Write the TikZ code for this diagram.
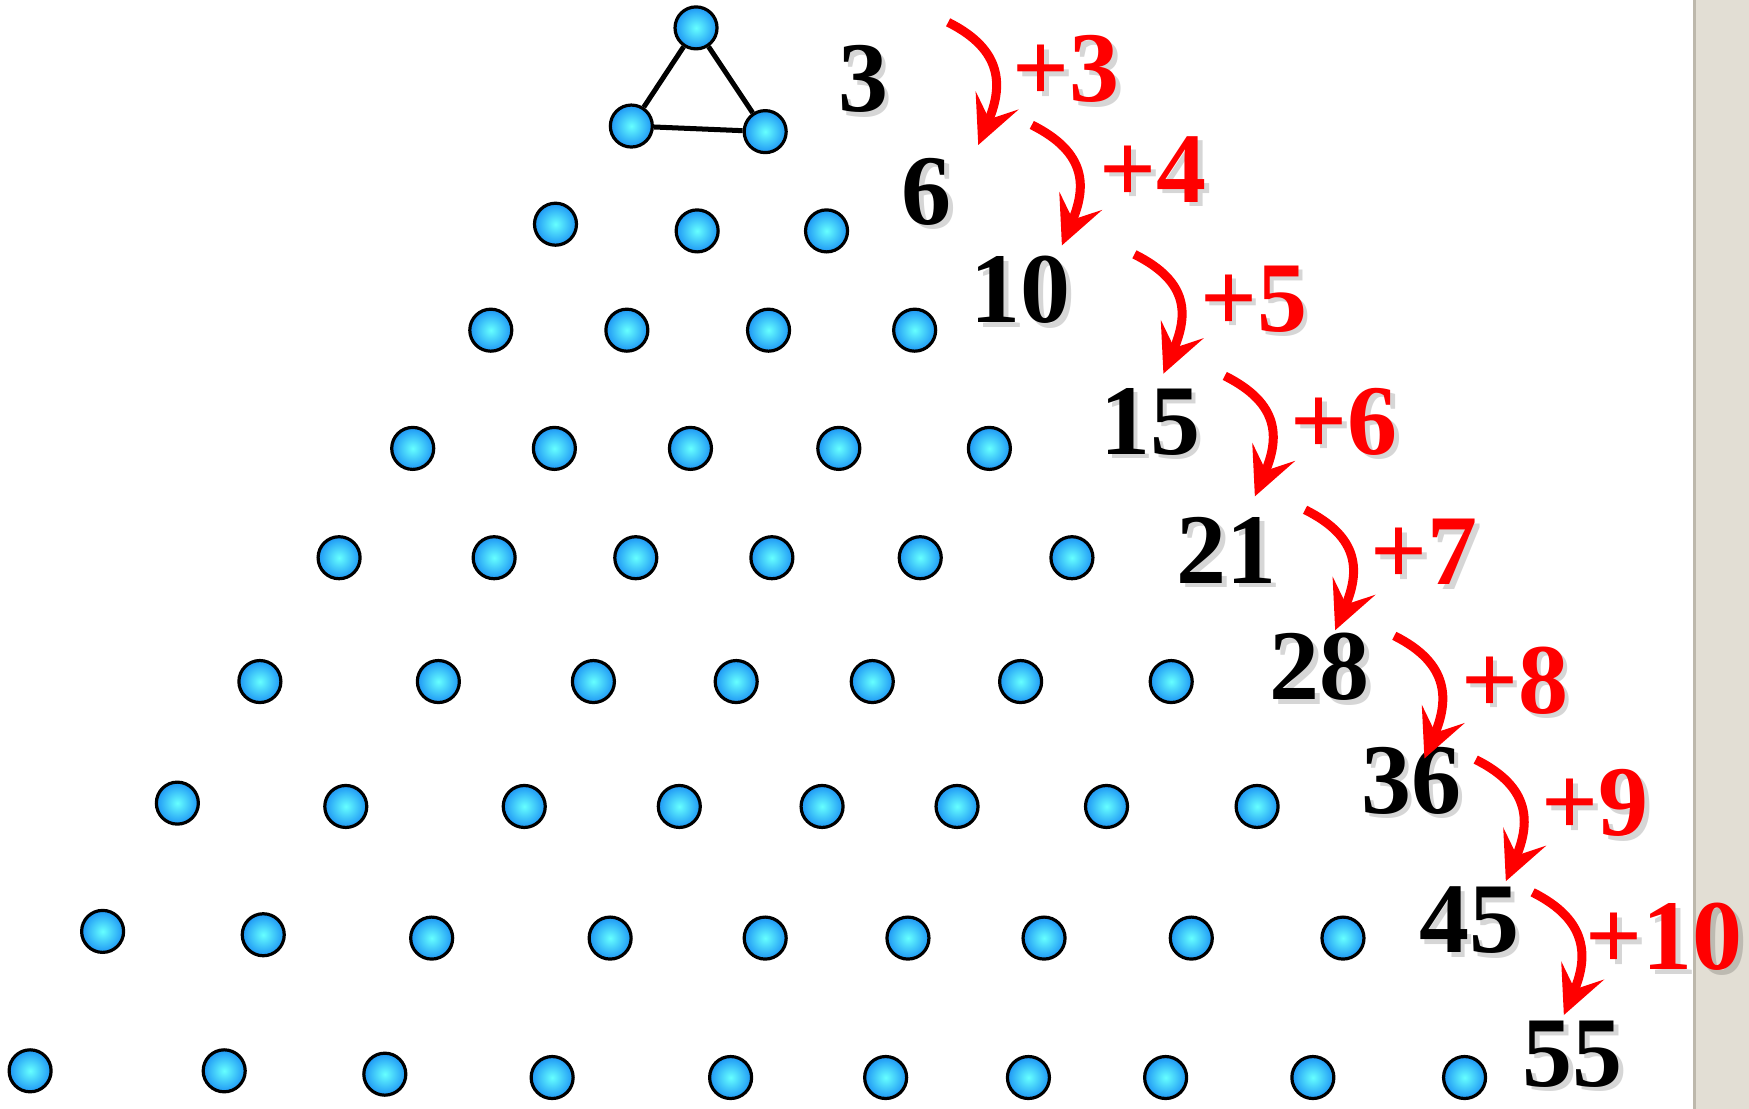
\documentclass[tikz,border=0pt]{standalone}
\usepackage{fontspec}
\setmainfont{Liberation Serif}
\usetikzlibrary{arrows.meta}
\definecolor{dotblue}{HTML}{1E96F5}
\definecolor{dotcyan}{HTML}{66FFFF}
\definecolor{stripbg}{HTML}{E2DED4}
\definecolor{stripedge}{HTML}{BDB8AC}
\begin{document}
\begin{tikzpicture}[x=1.1154pt,y=-1.1154pt,
 dot/.style={circle,draw=black,line width=3.2pt,minimum size=42pt,inner sep=0pt,inner color=dotcyan,outer color=dotblue},
 num/.style={font=\fontsize{100}{100}\selectfont\bfseries,inner sep=0pt,text=black},
 inc/.style={num,text=red},
 shadowtext/.style={num,text=black,text opacity=0.16},
 arr/.style={draw=red,line width=9pt,-{Stealth[length=48pt,width=46pt,inset=20pt]}},
 triline/.style={draw=black,line width=5pt}]
\useasboundingbox (0,0) rectangle (1568,994);
\fill[white] (0,0) rectangle (1518,994);
\fill[stripbg] (1518,0) rectangle (1568,994);
\draw[stripedge,line width=3pt] (1519,0) -- (1519,994);
% triangle
\foreach \n/\x/\y in {t1/624/25, t2/566/113, t3/686/118}
  \node[dot] (\n) at (\x,\y) {};
\draw[triline] (t1) -- (t2) -- (t3) -- (t1);
% dots
\foreach \n/\x/\y in {
 b1/498/201, b2/625/207, b3/741/207,
 c1/440/296, c2/562/296, c3/689/296, c4/820/296,
 d1/370/402, d2/497/402, d3/619/402, d4/752/402, d5/887/402,
 e1/304/500, e2/443/500, e3/570/500, e4/692/500, e5/825/500, e6/961/500,
 f1/233/611, f2/393/611, f3/532/611, f4/660/611, f5/782/611, f6/915/611, f7/1050/611,
 g1/159/720, g2/310/723, g3/470/723, g4/609/723, g5/737/723, g6/858/723, g7/992/723, g8/1127/723,
 h1/92/835, h2/236/838, h3/387/841, h4/547/841, h5/686/841, h6/814/841, h7/936/841, h8/1068/841, h9/1204/841,
 i1/27/960, i2/201/960, i3/345/963, i4/495/966, i5/655/966, i6/794/966, i7/922/966, i8/1045/966, i9/1177/966, i10/1313/966}
  \node[dot] (\n) at (\x,\y) {};
% numbers
\foreach \n/\x/\y/\t in {n1/774/71/3, n2/831/172/6, n3/915/260/10, n4/1031/378/15, n5/1100/493/21,
 n6/1183/598/28, n7/1265/700/36, n8/1317/825/45, n9/1410/945/55}{
  \node[shadowtext] (\n s) at (\x+4,\y+4) {\t};
  \node[num] (\n) at (\x,\y) {\t};
}
% increments
\foreach \n/\x/\y/\t in {p1/956/62/3, p2/1034/152/4, p3/1124/268/5, p4/1205/378/6, p5/1277/495/7,
 p6/1358/610/8, p7/1430/720/9, p8/1492/840/10}{
  \node[shadowtext] (\n s) at (\x+4,\y+4) {+\t};
  \node[inc] (\n) at (\x,\y) {+\t};
}
% arrows
\foreach \k/\sx/\sy/\ex/\ey in {1/850/20/877/130, 2/925/112/952/220, 3/1017/228/1043/335,
 4/1098/337/1125/445, 5/1170/457/1197/565, 6/1250/570/1277/680, 7/1323/681/1350/790,
 8/1374/800/1402/910}{
  \coordinate (as\k) at (\sx,\sy);
  \coordinate (ae\k) at (\ex,\ey);
  \draw[arr] (as\k) .. controls +(50,25) and +(22,-52) .. (ae\k);
}
\end{tikzpicture}
\end{document}
